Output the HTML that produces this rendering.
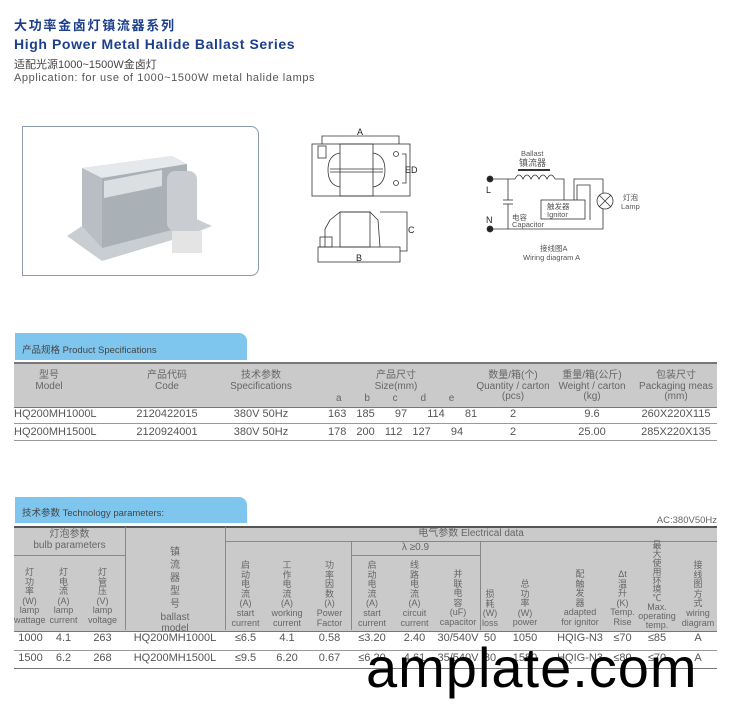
<!DOCTYPE html>
<html><head><meta charset="utf-8"><style>
body{margin:0;width:730px;height:711px;background:#fff;position:relative;overflow:hidden;font-family:"Liberation Sans","Noto Sans CJK SC",sans-serif;color:#555}
div{position:absolute}
.c{text-align:center;white-space:nowrap}
.t{font-size:10px;color:#666;line-height:10.5px}
.v{font-size:9px;color:#666;text-align:center;white-space:nowrap}
.v span{display:block;height:9.6px;line-height:9.6px;overflow:visible}
.m span{height:8.9px;line-height:8.9px}
.d{font-size:11px;color:#555;white-space:nowrap;text-align:center}
</style></head><body>
<div style="left:14px;top:18px;font-size:13px;line-height:16px;font-weight:bold;color:#1c3f8c;letter-spacing:1.7px">大功率金卤灯镇流器系列</div>
<div style="left:14px;top:36px;font-size:14px;line-height:16px;font-weight:bold;color:#1c3f8c;letter-spacing:0.6px">High Power Metal Halide Ballast Series</div>
<div style="left:14px;top:56px;font-size:11px;color:#444">适配光源1000~1500W金卤灯</div>
<div style="left:14px;top:72px;font-size:11px;color:#555;letter-spacing:0.6px">Application: for use of 1000~1500W metal halide lamps</div>

<!-- photo -->
<div style="left:22px;top:126px;width:235px;height:148px;border:1px solid #8a9ab0;border-radius:0 8px 8px 0"></div>
<svg style="position:absolute;left:22px;top:126px" width="236" height="149">
<polygon points="45,110 80,135 170,108 190,100 150,82 60,100" fill="#c9ced3"/>
<polygon points="60,42 150,30 165,38 165,100 80,122 60,100" fill="#b8bec4"/>
<polygon points="60,42 150,30 165,38 80,52" fill="#e6e9ec"/>
<polygon points="80,52 165,38 165,100 80,122" fill="#a9b0b6"/>
<rect x="145" y="45" width="30" height="60" rx="8" fill="#c9cdd2"/>
<rect x="150" y="105" width="30" height="22" fill="#e4e4e4"/>
<polygon points="82,55 140,44 140,60 82,72" fill="#dcdfe2"/>
</svg>

<!-- dimension drawing -->
<svg style="position:absolute;left:290px;top:120px" width="360" height="150" fill="none" stroke="#333" stroke-width="0.8">
<polyline points="32,24 32,16 109,16 109,24"/>
<text x="67" y="15" font-size="9" fill="#222" stroke="none" font-family="Liberation Sans">A</text>
<rect x="22" y="24" width="98" height="52"/>
<rect x="28" y="26" width="8" height="12"/>
<rect x="50" y="24" width="33" height="52"/>
<path d="M50,33 Q38,35 38,50 Q38,65 50,67"/>
<path d="M83,33 Q95,35 95,50 Q95,65 83,67"/>
<line x1="40" y1="49" x2="93" y2="49"/><line x1="40" y1="52" x2="93" y2="52"/>
<circle cx="106" cy="34" r="2.5"/><circle cx="106" cy="63" r="2.5"/>
<polyline points="112,34 116,34 116,63 112,63"/>
<text x="115" y="53" font-size="9" fill="#222" stroke="none" font-family="Liberation Sans">ED</text>
<rect x="28" y="127" width="82" height="15"/>
<polyline points="35,127 35,109 40,100 50,92 80,92 88,100 90,127"/>
<rect x="50" y="92" width="30" height="35"/>
<rect x="30" y="117" width="12" height="10"/>
<polyline points="90,92 117,92 117,131 110,131"/>
<text x="118" y="113" font-size="9" fill="#222" stroke="none" font-family="Liberation Sans">C</text>
<text x="66" y="141" font-size="9" fill="#222" stroke="none" font-family="Liberation Sans">B</text>
<circle cx="200" cy="59" r="3" fill="#222"/><circle cx="200" cy="109" r="3" fill="#222"/>
<polyline points="203,59 225,59"/>
<path d="M225,59 q4,-8 8,0 q4,-8 8,0 q4,-8 8,0 q4,-8 8,0 q4,-8 8,0"/>
<line x1="228" y1="50" x2="260" y2="50" stroke-width="2"/>
<polyline points="265,59 274,59 274,80"/>
<rect x="251" y="80" width="44" height="19"/>
<polyline points="284,80 284,59 313,59 313,109 203,109"/>
<polyline points="218,59 218,80"/><line x1="213" y1="80" x2="223" y2="80"/><line x1="213" y1="84" x2="223" y2="84"/>
<line x1="218" y1="84" x2="218" y2="109"/>
<polyline points="287,80 287,65 300,65 300,100"/>
<circle cx="315" cy="81" r="8" fill="#fff"/><line x1="309" y1="75" x2="321" y2="87"/><line x1="321" y1="75" x2="309" y2="87"/>
<g stroke="none" fill="#555" font-family="Liberation Sans,Noto Sans CJK SC" font-size="7.5">
<text x="231" y="36">Ballast</text><text x="229" y="46" font-size="9">镇流器</text>
<text x="196" y="73" font-size="9" fill="#222">L</text><text x="196" y="103" font-size="9" fill="#222">N</text>
<text x="222" y="100">电容</text><text x="222" y="107">Capacitor</text>
<text x="257" y="89">触发器</text><text x="257" y="97">Ignitor</text>
<text x="333" y="80">灯泡</text><text x="331" y="89">Lamp</text>
<text x="250" y="131">接线图A</text><text x="233" y="140">Wiring diagram A</text>
</g>
</svg>

<!-- spec tab -->
<div style="left:15px;top:333px;width:232px;height:27px;background:#7fc6ee;border-radius:0 8px 0 0"></div>
<div style="left:22px;top:342px;font-size:9.5px;color:#444">产品规格 Product Specifications</div>
<div style="left:14px;top:362px;width:703px;height:43px;background:#cacaca;border-top:2px solid #777;border-bottom:1px solid #777"></div>
<div style="left:14px;top:423px;width:703px;border-top:1px solid #999"></div>
<div style="left:14px;top:440px;width:703px;border-top:1px solid #999"></div>
<div class="c t" style="left:9px;top:371px;width:80px">型号<br>Model</div>
<div class="c t" style="left:127px;top:371px;width:80px">产品代码<br>Code</div>
<div class="c t" style="left:211px;top:371px;width:100px">技术参数<br>Specifications</div>
<div class="c t" style="left:346px;top:371px;width:100px">产品尺寸<br>Size(mm)</div>
<div class="c t" style="left:473px;top:371px;width:80px">数量/箱(个)<br>Quantity / carton<br>(pcs)</div>
<div class="c t" style="left:552px;top:371px;width:80px">重量/箱(公斤)<br>Weight / carton<br>(kg)</div>
<div class="c t" style="left:636px;top:371px;width:80px">包装尺寸<br>Packaging meas<br>(mm)</div>
<div class="t" style="left:336px;top:394px;word-spacing:20px">a b c d e</div>
<div class="d" style="left:14px;top:408px">HQ200MH1000L</div>
<div class="d" style="left:14px;top:426px">HQ200MH1500L</div>
<div class="d" style="left:127px;top:408px;width:80px">2120422015</div>
<div class="d" style="left:127px;top:426px;width:80px">2120924001</div>
<div class="d" style="left:221px;top:408px;width:80px">380V 50Hz</div>
<div class="d" style="left:221px;top:426px;width:80px">380V 50Hz</div>
<div class="d" style="left:328px;top:408px;word-spacing:7px;text-align:left">163 185 &nbsp;97 &nbsp;114 &nbsp;81</div>
<div class="d" style="left:328px;top:426px;word-spacing:7px;text-align:left">178 200 112 127 &nbsp;94</div>
<div class="d" style="left:473px;top:408px;width:80px">2</div><div class="d" style="left:473px;top:426px;width:80px">2</div>
<div class="d" style="left:552px;top:408px;width:80px">9.6</div><div class="d" style="left:552px;top:426px;width:80px">25.00</div>
<div class="d" style="left:636px;top:408px;width:80px">260X220X115</div><div class="d" style="left:636px;top:426px;width:80px">285X220X135</div>

<!-- tech tab -->
<div style="left:15px;top:497px;width:232px;height:26px;background:#7fc6ee;border-radius:0 8px 0 0"></div>
<div style="left:22px;top:505px;font-size:9.5px;color:#444">技术参数 Technology parameters:</div>
<div style="left:630px;top:515px;font-size:9.5px;color:#666;width:87px;text-align:right">AC:380V50Hz</div>
<div style="left:14px;top:526px;width:703px;height:103px;background:#cacaca;border-top:2px solid #555;border-bottom:1px solid #777"></div>
<div style="left:125px;top:527px;height:103px;border-left:1px solid #888"></div>
<div style="left:225px;top:527px;height:103px;border-left:1px solid #888"></div>
<div style="left:351px;top:541px;height:89px;border-left:1px solid #888"></div>
<div style="left:480px;top:541px;height:89px;border-left:1px solid #888"></div>
<div style="left:225px;top:541px;width:492px;border-top:1px solid #888"></div>
<div style="left:351px;top:555px;width:129px;border-top:1px solid #888"></div>
<div style="left:14px;top:555px;width:111px;border-top:1px solid #888"></div>
<div style="left:14px;top:650px;width:703px;border-top:1px solid #999"></div>
<div style="left:14px;top:668px;width:703px;border-top:1px solid #777"></div>
<div class="c t" style="left:14px;top:530px;width:111px">灯泡参数<br>bulb parameters</div>
<div class="c t" style="left:225px;top:529px;width:492px">电气参数 Electrical data</div>
<div class="c t" style="left:351px;top:543px;width:129px">λ ≥0.9</div>
<div class="v" style="left:14px;top:568px;width:31px"><span>灯</span><span>功</span><span>率</span><span>(W)</span><span>lamp</span><span>wattage</span></div>
<div class="v" style="left:45px;top:568px;width:37px"><span>灯</span><span>电</span><span>流</span><span>(A)</span><span>lamp</span><span>current</span></div>
<div class="v" style="left:82px;top:568px;width:41px"><span>灯</span><span>管</span><span>压</span><span>(V)</span><span>lamp</span><span>voltage</span></div>
<div class="v" style="left:125px;top:548px;width:100px;font-size:10px"><span style="height:13px">镇</span><span style="height:13px">流</span><span style="height:13px">器</span><span style="height:13px">型</span><span style="height:13px">号</span><span style="height:11px">ballast</span><span style="height:11px">model</span></div>
<div class="v" style="left:225px;top:561px;width:41px"><span>启</span><span>动</span><span>电</span><span>流</span><span>(A)</span><span>start</span><span>current</span></div>
<div class="v" style="left:266px;top:561px;width:42px"><span>工</span><span>作</span><span>电</span><span>流</span><span>(A)</span><span>working</span><span>current</span></div>
<div class="v" style="left:308px;top:561px;width:43px"><span>功</span><span>率</span><span>因</span><span>数</span><span>(λ)</span><span>Power</span><span>Factor</span></div>
<div class="v" style="left:351px;top:561px;width:42px"><span>启</span><span>动</span><span>电</span><span>流</span><span>(A)</span><span>start</span><span>current</span></div>
<div class="v" style="left:393px;top:561px;width:43px"><span>线</span><span>路</span><span>电</span><span>流</span><span>(A)</span><span>circuit</span><span>current</span></div>
<div class="v" style="left:433px;top:570px;width:50px"><span>并</span><span>联</span><span>电</span><span>容</span><span>(uF)</span><span>capacitor</span></div>
<div class="v" style="left:480px;top:590px;width:20px"><span>损</span><span>耗</span><span>(W)</span><span>loss</span></div>
<div class="v" style="left:500px;top:580px;width:50px"><span>总</span><span>功</span><span>率</span><span>(W)</span><span>power</span></div>
<div class="v" style="left:550px;top:570px;width:60px"><span>配</span><span>触</span><span>发</span><span>器</span><span>adapted</span><span>for ignitor</span></div>
<div class="v" style="left:605px;top:570px;width:35px"><span>Δt</span><span>温</span><span>升</span><span>(K)</span><span>Temp.</span><span>Rise</span></div>
<div class="v m" style="left:636px;top:541px;width:42px"><span>最</span><span>大</span><span>使</span><span>用</span><span>环</span><span>境</span><span>℃</span><span>Max.</span><span>operating</span><span>temp.</span></div>
<div class="v" style="left:678px;top:561px;width:40px"><span>接</span><span>线</span><span>图</span><span>方</span><span>式</span><span>wiring</span><span>diagram</span></div>
<div class="d" style="left:14px;top:632px;width:33px">1000</div><div class="d" style="left:14px;top:652px;width:33px">1500</div>
<div class="d" style="left:45px;top:632px;width:37px">4.1</div><div class="d" style="left:45px;top:652px;width:37px">6.2</div>
<div class="d" style="left:82px;top:632px;width:41px">263</div><div class="d" style="left:82px;top:652px;width:41px">268</div>
<div class="d" style="left:125px;top:632px;width:100px">HQ200MH1000L</div><div class="d" style="left:125px;top:652px;width:100px">HQ200MH1500L</div>
<div class="d" style="left:225px;top:632px;width:41px">≤6.5</div><div class="d" style="left:225px;top:652px;width:41px">≤9.5</div>
<div class="d" style="left:266px;top:632px;width:42px">4.1</div><div class="d" style="left:266px;top:652px;width:42px">6.20</div>
<div class="d" style="left:308px;top:632px;width:43px">0.58</div><div class="d" style="left:308px;top:652px;width:43px">0.67</div>
<div class="d" style="left:351px;top:632px;width:42px">≤3.20</div><div class="d" style="left:351px;top:652px;width:42px">≤6.20</div>
<div class="d" style="left:393px;top:632px;width:43px">2.40</div><div class="d" style="left:393px;top:652px;width:43px">4.61</div>
<div class="d" style="left:436px;top:632px;width:44px">30/540V</div><div class="d" style="left:436px;top:652px;width:44px">35/540V</div>
<div class="d" style="left:480px;top:632px;width:20px">50</div><div class="d" style="left:480px;top:652px;width:20px">80</div>
<div class="d" style="left:500px;top:632px;width:50px">1050</div><div class="d" style="left:500px;top:652px;width:50px">1580</div>
<div class="d" style="left:550px;top:632px;width:60px">HQIG-N3</div><div class="d" style="left:550px;top:652px;width:60px">HQIG-N3</div>
<div class="d" style="left:605px;top:632px;width:35px">≤70</div><div class="d" style="left:605px;top:652px;width:35px">≤80</div>
<div class="d" style="left:636px;top:632px;width:42px">≤85</div><div class="d" style="left:636px;top:652px;width:42px">≤70</div>
<div class="d" style="left:678px;top:632px;width:40px">A</div><div class="d" style="left:678px;top:652px;width:40px">A</div>
<div style="left:366px;top:638px;font-size:56px;color:#000;font-family:'Liberation Sans',sans-serif;line-height:60px;letter-spacing:1px">amplate.com</div>
</body></html>
